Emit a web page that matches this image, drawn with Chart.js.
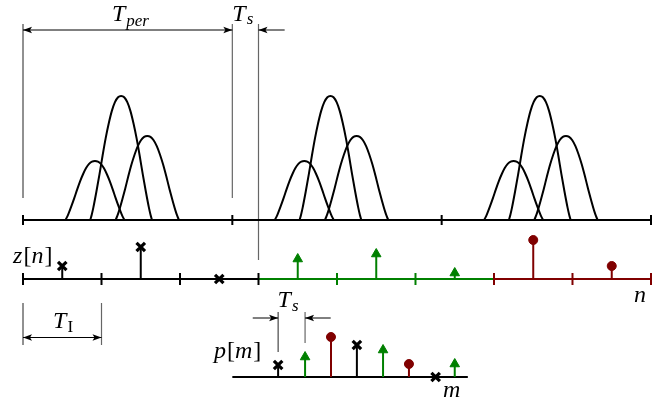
<!DOCTYPE html>
<html lang="en">
<head>
<meta charset="UTF-8">
<title>Sampling diagram</title>
<script src="https://cdn.jsdelivr.net/npm/chart.js"></script>
<style>
  html, body { margin: 0; padding: 0; background: #fff; }
  #wrap { width: 672px; height: 410px; }
</style>
</head>
<body>
<div id="wrap"><canvas id="diagram" width="672" height="410"></canvas></div>
<script>
// ---- data (x in units of Ts, y = amplitude units) ----
const PERIOD_STARTS = [0, 8, 16];          // Tper = 8 Ts
const PULSE_CENTERS = [2.75, 3.75, 4.75];
const PULSE_HALF    = [1.13, 1.18, 1.21];
const PULSE_HEIGHT  = [59, 124, 84];
// pulse profile (u = offset / half width)
const PULSE_U     = [-1, -0.95, -0.9, -0.8, -0.7, -0.6, -0.5, -0.4, -0.3, -0.2, -0.1, 0,
                     0.1, 0.2, 0.3, 0.4, 0.5, 0.6, 0.7, 0.8, 0.9, 0.95, 1];
const PULSE_SHAPE = [0, 0.045, 0.1, 0.23, 0.37, 0.52, 0.66, 0.78, 0.88, 0.95, 0.99, 1,
                     0.99, 0.95, 0.88, 0.78, 0.66, 0.52, 0.37, 0.23, 0.1, 0.045, 0];

const TOP_TICKS = [0, 8, 16, 24];
const Z_TICKS = [0, 3, 6, 9, 12, 15, 18, 21, 24];

const Z_BLACK_N = [1.5, 4.5, 7.5];    const Z_BLACK = [13, 32, 0];
const Z_GREEN_N = [10.5, 13.5, 16.5]; const Z_GREEN = [20, 25, 6];
const Z_RED_N   = [19.5, 22.5];       const Z_RED   = [39, 13];

const P_BLACK_M = [9.75, 12.76, 15.77]; const P_BLACK = [12, 32, 0];
const P_GREEN_M = [10.78, 13.76, 16.5]; const P_GREEN = [20, 27, 13];
const P_RED_M   = [11.77, 14.75];       const P_RED   = [40, 13];

// ---- layout ----
const BASE_TOP = 190, BASE_Z = 131, BASE_P = 33;
const GREEN = '#008000', RED = '#800000', GRAY = '#666';

const datasets = [];
function addLine(points, color, width, extra) {
    datasets.push(Object.assign({
        data: points, borderColor: color, borderWidth: width,
        pointRadius: 0, fill: false, tension: 0, order: 1
    }, extra || {}));
}

// pulses
PERIOD_STARTS.forEach(p0 => {
    PULSE_CENTERS.forEach((c, i) => {
        const pts = PULSE_U.map((u, k) => ({ x: p0 + c + u * PULSE_HALF[i], y: BASE_TOP + PULSE_SHAPE[k] * PULSE_HEIGHT[i] }));
        addLine(pts, '#000', 2, { cubicInterpolationMode: 'monotone', order: 2 });
    });
});

// top axis
addLine(TOP_TICKS.map(x => ({ x, y: BASE_TOP })), '#000', 2,
    { pointStyle: 'line', pointRotation: 90, pointRadius: 5, pointBorderWidth: 2, pointBorderColor: '#000' });

// z[n] axis, coloured per block
function blockColor(x) { return x < 9 ? '#000' : (x < 18 ? GREEN : RED); }
addLine(Z_TICKS.map(x => ({ x, y: BASE_Z })), '#000', 2, {
    segment: { borderColor: c => blockColor(c.p0.parsed.x) },
    pointStyle: 'line', pointRotation: 90, pointRadius: 6, pointBorderWidth: 2,
    pointBorderColor: Z_TICKS.map(x => x <= 9 ? '#000' : (x < 18 ? GREEN : RED))
});

// p[m] axis
addLine([{ x: 8, y: BASE_P }, { x: 17, y: BASE_P }], '#000', 2);

// reference lines
addLine([{ x: 0, y: 212 }, { x: 0, y: 386 }], '#222', 1);
addLine([{ x: 8, y: 212 }, { x: 8, y: 386 }], GRAY, 1.2);
addLine([{ x: 9, y: 150 }, { x: 9, y: 386 }], GRAY, 1.2);
addLine([{ x: 0, y: 65 }, { x: 0, y: 107 }], '#222', 1);
addLine([{ x: 3, y: 65 }, { x: 3, y: 107 }], GRAY, 1.2);
addLine([{ x: 9.75, y: 58 }, { x: 9.75, y: 98 }], '#222', 1);
addLine([{ x: 10.78, y: 67 }, { x: 10.78, y: 98 }], GRAY, 1.2);

// stems
function addStems(xs, hs, base, color, style, r) {
    xs.forEach((x, i) => {
        datasets.push({
            data: [{ x, y: base }, { x, y: base + hs[i] }],
            borderColor: color, borderWidth: 2, tension: 0, order: 0,
            pointRadius: [0, r], pointStyle: style,
            pointBackgroundColor: color, pointBorderColor: color,
            pointBorderWidth: style === 'crossRot' ? 3.2 : 1
        });
    });
}
addStems(Z_BLACK_N, Z_BLACK, BASE_Z, '#000', 'crossRot', 6);
addStems(Z_GREEN_N, Z_GREEN, BASE_Z, GREEN, 'triangle', 5.5);
addStems(Z_RED_N, Z_RED, BASE_Z, RED, 'circle', 4.5);
addStems(P_BLACK_M, P_BLACK, BASE_P, '#000', 'crossRot', 6);
addStems(P_GREEN_M, P_GREEN, BASE_P, GREEN, 'triangle', 5.5);
addStems(P_RED_M, P_RED, BASE_P, RED, 'circle', 4.5);

// ---- annotations: dimension arrows and labels ----
const MATH = 'italic 24px "Liberation Serif"';
const UP = '24px "Liberation Serif"';
const SUB = 'italic 17px "Liberation Serif"';
const SUBUP = '17px "Liberation Serif"';

const annotations = {
    id: 'annotations',
    afterDatasetsDraw(chart) {
        const { ctx, scales: { x: xs, y: ys } } = chart;
        const X = v => xs.getPixelForValue(v), Y = v => ys.getPixelForValue(v);
        ctx.save();
        ctx.strokeStyle = '#000';
        ctx.fillStyle = '#000';
        ctx.lineWidth = 1;

        function hline(x0, x1, y) {
            ctx.beginPath();
            ctx.moveTo(X(x0), Y(y)); ctx.lineTo(X(x1), Y(y));
            ctx.stroke();
        }
        function head(xv, yv, dir) {
            const tx = X(xv), ty = Y(yv);
            ctx.beginPath();
            ctx.moveTo(tx, ty);
            ctx.lineTo(tx - dir * 9, ty - 3.3);
            ctx.lineTo(tx - dir * 7, ty);
            ctx.lineTo(tx - dir * 9, ty + 3.3);
            ctx.closePath();
            ctx.fill();
        }
        function runs(list, xv, yv) {
            let px = X(xv);
            const py = Y(yv);
            ctx.textBaseline = 'alphabetic';
            list.forEach(r => {
                ctx.font = r[1];
                ctx.fillText(r[0], px, py + (r[2] || 0));
                px += ctx.measureText(r[0]).width + (r[3] || 0);
            });
        }

        // Tper and Ts (top)
        hline(0, 8, 380); head(0, 380, -1); head(8, 380, 1);
        hline(9, 10, 380); head(9, 380, -1);
        // T_I
        hline(0, 3, 72.5); head(0, 72.5, -1); head(3, 72.5, 1);
        // Ts (p row)
        hline(8.78, 9.75, 92); head(9.75, 92, 1);
        hline(10.78, 11.76, 92); head(10.78, 92, -1);

        runs([['T', MATH, 0, 1], ['per', SUB, 5]], 3.4, 389);
        runs([['T', MATH, 0, 1], ['s', SUB, 3]], 8.0, 389.5);
        runs([['T', MATH, 0, 1], ['I', SUBUP, 4]], 1.15, 82);
        runs([['T', MATH, 0, 1], ['s', SUB, 4]], 9.73, 103);
        runs([['z', MATH, 0, 1], ['[', UP], ['n', MATH, 0, 1], [']', UP]], -0.38, 147);
        runs([['p', MATH, 0, 1], ['[', UP], ['m', MATH, 0, 1], [']', UP]], 7.3, 52);
        runs([['n', MATH]], 23.35, 108.5);
        runs([['m', MATH]], 16.05, 13);
        ctx.restore();
    }
};

new Chart(document.getElementById('diagram').getContext('2d'), {
    type: 'line',
    data: { datasets },
    options: {
        responsive: false,
        animation: false,
        events: [],
        layout: { padding: 0, autoPadding: false },
        plugins: { legend: { display: false }, tooltip: { enabled: false } },
        scales: {
            x: { type: 'linear', min: -0.879, max: 24.803, display: false },
            y: { type: 'linear', min: 0, max: 410, display: false }
        }
    },
    plugins: [annotations]
});
</script>
</body>
</html>
